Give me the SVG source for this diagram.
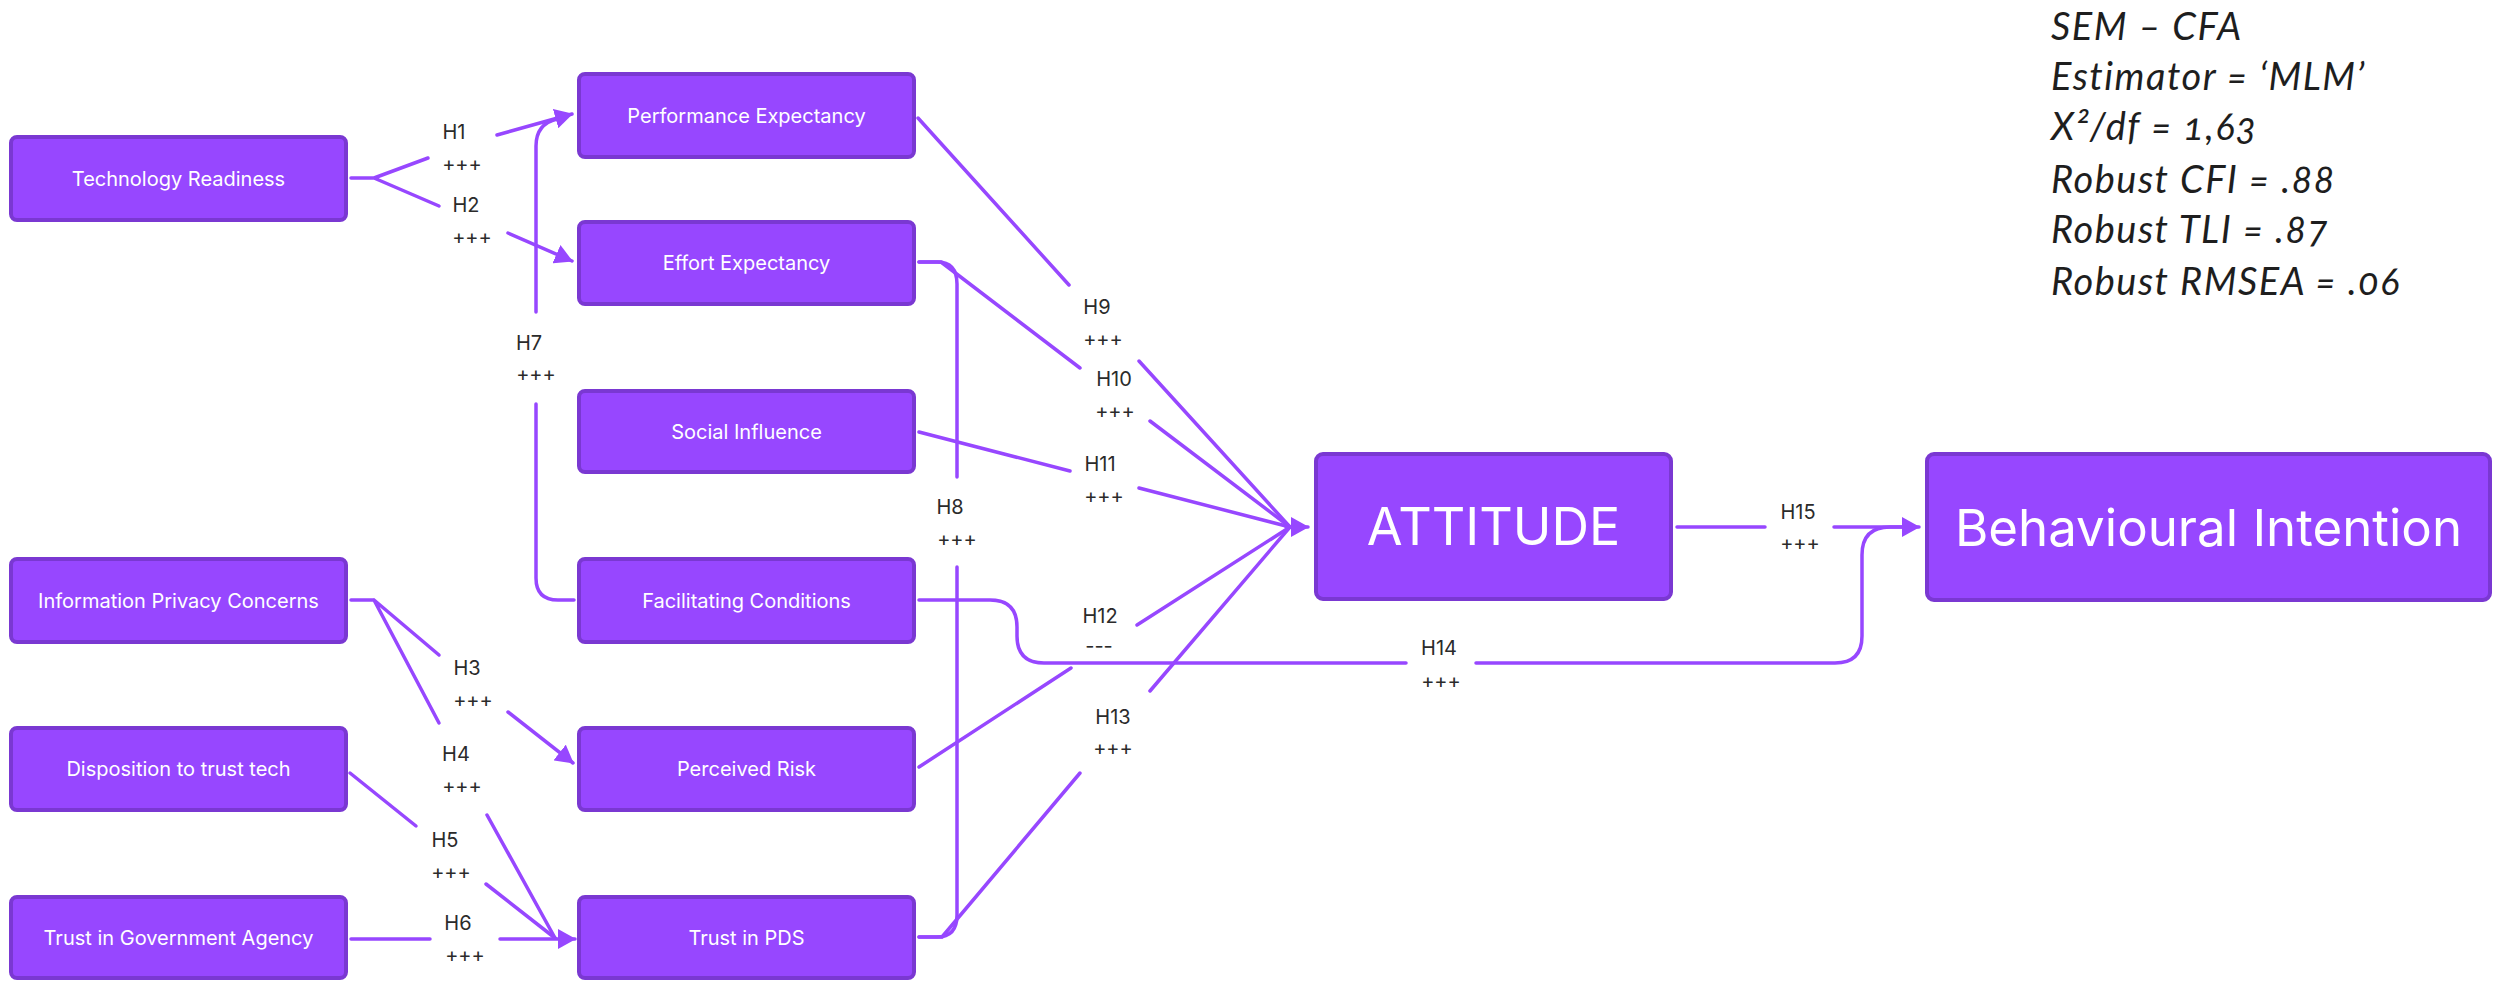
<svg xmlns="http://www.w3.org/2000/svg" width="2493" height="981" viewBox="0 0 2493 981">
<style>
.box{fill:#9747FF;stroke:#7A38D2;stroke-width:4}
.nt{font-family:Inter,"Noto Sans",sans-serif;font-size:20px;fill:#FFFFFF;text-anchor:middle}
.big{font-size:52px}
.lb{font-family:Inter,"Noto Sans",sans-serif;font-size:20px;fill:#2B2B2B;text-anchor:middle}
.c{fill:none;stroke:#9747FF;stroke-width:3.5;stroke-linecap:round;stroke-linejoin:round}
.stat{font-family:Lato,"Open Sans",sans-serif;font-style:italic;font-size:38px;letter-spacing:1.5px;fill:#1E1E1E;font-variant-numeric:oldstyle-nums}
</style>
<defs>
<marker id="ah" viewBox="0 0 18 20" refX="17" refY="10" markerWidth="18" markerHeight="20" markerUnits="userSpaceOnUse" orient="auto">
<path d="M0,0 L18,10 L0,20 z" fill="#9747FF"/>
</marker>
</defs>
<rect width="2493" height="981" fill="#FFFFFF"/>

<g id="connectors">
<path class="c" d="M351,178 H374 L428,158 M374,178 L439,206"/>
<path class="c" d="M497,135 L572,114" marker-end="url(#ah)"/>
<path class="c" d="M508,233 L572,261" marker-end="url(#ah)"/>
<path class="c" d="M536,312 V146 Q536,124 557,119"/>
<path class="c" d="M536,404 V578 Q536,600 558,600 H574"/>
<path class="c" d="M351,600 H374 L439,655 M374,600 L439,723"/>
<path class="c" d="M508,712 L573,763" marker-end="url(#ah)"/>
<path class="c" d="M487,815 L555,938"/>
<path class="c" d="M350,773 L416,826"/>
<path class="c" d="M486,884 L555,938"/>
<path class="c" d="M351,939 H430"/>
<path class="c" d="M500,939 H575" marker-end="url(#ah)"/>
<path class="c" d="M918,118 L1069,285 M1139,361 L1290,527"/>
<path class="c" d="M919,262 H941 L1080,368 M1150,421 L1290,527"/>
<path class="c" d="M919,262 H937 Q957,262 957,284 V477 M957,567 V915 Q957,937 937,937 H919"/>
<path class="c" d="M919,432 L1070,471 M1139,488 L1290,527"/>
<path class="c" d="M919,767 L1071,668 M1137,625 L1290,527"/>
<path class="c" d="M919,937 H942 L1080,773 M1150,691 L1290,527"/>
<path class="c" d="M919,600 H990 Q1017,600 1017,627 V636 Q1017,663 1044,663 H1406 M1476,663 H1835 Q1862,663 1862,636 V555 Q1862,527 1890,527 H1902"/>
<path class="c" d="M1286,527 H1308" marker-end="url(#ah)"/>
<path class="c" d="M1677,527 H1765"/>
<path class="c" d="M1834,527 H1919" marker-end="url(#ah)"/>
</g>

<g id="labels">
<text class="lb" x="454" y="139">H1</text><text class="lb" x="462" y="171">+++</text>
<text class="lb" x="466" y="212">H2</text><text class="lb" x="472" y="244">+++</text>
<text class="lb" x="529" y="350">H7</text><text class="lb" x="536" y="381">+++</text>
<text class="lb" x="467" y="675">H3</text><text class="lb" x="473" y="707">+++</text>
<text class="lb" x="456" y="761">H4</text><text class="lb" x="462" y="793">+++</text>
<text class="lb" x="445" y="847">H5</text><text class="lb" x="451" y="879">+++</text>
<text class="lb" x="458" y="930">H6</text><text class="lb" x="465" y="962">+++</text>
<text class="lb" x="1097" y="314">H9</text><text class="lb" x="1103" y="346">+++</text>
<text class="lb" x="1114" y="386">H10</text><text class="lb" x="1115" y="418">+++</text>
<text class="lb" x="1100" y="471">H11</text><text class="lb" x="1104" y="503">+++</text>
<text class="lb" x="950" y="514">H8</text><text class="lb" x="957" y="546">+++</text>
<text class="lb" x="1100" y="623">H12</text><text class="lb" x="1099" y="653">---</text>
<text class="lb" x="1113" y="724">H13</text><text class="lb" x="1113" y="755">+++</text>
<text class="lb" x="1439" y="655">H14</text><text class="lb" x="1441" y="688">+++</text>
<text class="lb" x="1798" y="519">H15</text><text class="lb" x="1800" y="550">+++</text>
</g>

<g id="node-tr"><rect class="box" x="11" y="137" width="335" height="83" rx="6"/><text class="nt" x="178.5" y="185.5">Technology Readiness</text></g>
<g id="node-ipc"><rect class="box" x="11" y="559" width="335" height="83" rx="6"/><text class="nt" x="178.5" y="607.5">Information Privacy Concerns</text></g>
<g id="node-dtt"><rect class="box" x="11" y="728" width="335" height="82" rx="6"/><text class="nt" x="178.5" y="776">Disposition to trust tech</text></g>
<g id="node-tga"><rect class="box" x="11" y="897" width="335" height="81" rx="6"/><text class="nt" x="178.5" y="944.5">Trust in Government Agency</text></g>
<g id="node-pe"><rect class="box" x="579" y="74" width="335" height="83" rx="6"/><text class="nt" x="746.5" y="122.5">Performance Expectancy</text></g>
<g id="node-ee"><rect class="box" x="579" y="222" width="335" height="82" rx="6"/><text class="nt" x="746.5" y="270">Effort Expectancy</text></g>
<g id="node-si"><rect class="box" x="579" y="391" width="335" height="81" rx="6"/><text class="nt" x="746.5" y="438.5">Social Influence</text></g>
<g id="node-fc"><rect class="box" x="579" y="559" width="335" height="83" rx="6"/><text class="nt" x="746.5" y="607.5">Facilitating Conditions</text></g>
<g id="node-pr"><rect class="box" x="579" y="728" width="335" height="82" rx="6"/><text class="nt" x="746.5" y="776">Perceived Risk</text></g>
<g id="node-tpds"><rect class="box" x="579" y="897" width="335" height="81" rx="6"/><text class="nt" x="746.5" y="944.5">Trust in PDS</text></g>
<g id="node-att"><rect class="box" x="1316" y="454" width="355" height="145" rx="7"/><text class="nt big" x="1493.5" y="545">ATTITUDE</text></g>
<g id="node-bi"><rect class="box" x="1927" y="454" width="563" height="146" rx="7"/><text class="nt big" x="2208.5" y="546" style="font-size:51px">Behavioural Intention</text></g>

<g id="stats">
<text class="stat" x="2051" y="40">SEM – CFA</text>
<text class="stat" x="2051" y="90">Estimator = ‘MLM’</text>
<text class="stat" x="2051" y="140">X²/df = 1,63</text>
<text class="stat" x="2051" y="193">Robust CFI = .88</text>
<text class="stat" x="2051" y="243">Robust TLI = .87</text>
<text class="stat" x="2051" y="295">Robust RMSEA = .06</text>
</g>
</svg>
